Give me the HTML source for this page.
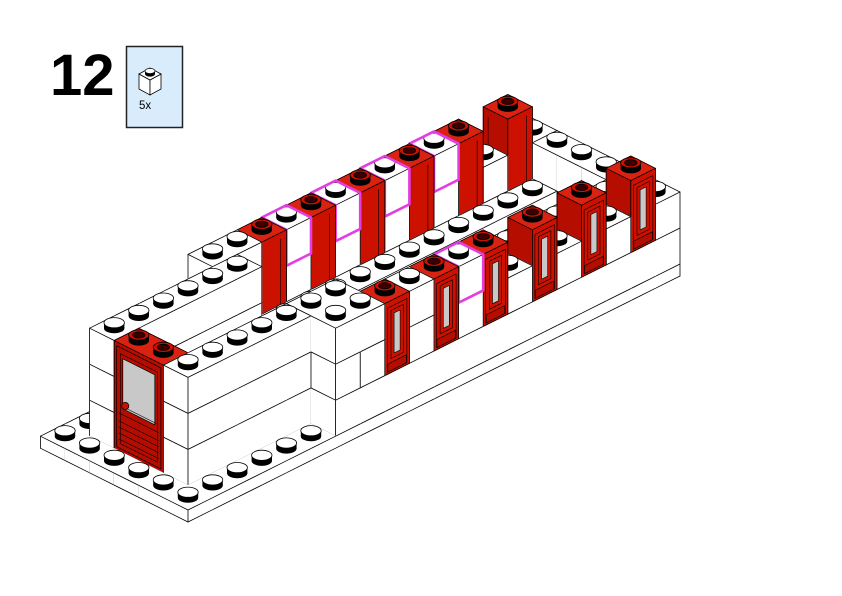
<!DOCTYPE html>
<html><head><meta charset="utf-8"><style>
html,body{margin:0;padding:0;background:#fff;width:842px;height:596px;overflow:hidden}
svg{display:block}
</style></head><body>
<svg id="s" width="842" height="596" viewBox="0 0 842 596" xmlns="http://www.w3.org/2000/svg">
<rect width="842" height="596" fill="#fff"/>
<text x="50" y="95" font-family="Liberation Sans, sans-serif" font-weight="bold" font-size="58" fill="#000">12</text>
<rect x="126.5" y="46.5" width="56" height="81" fill="#d8ecfc" stroke="#222" stroke-width="1.5"/>
<polygon points="139,89 139,74 150,80 150,95" fill="#fff" stroke="#000" stroke-width="0.8"/>
<polygon points="150,95 150,80 161,74 161,89" fill="#fff" stroke="#000" stroke-width="0.8"/>
<polygon points="139,74 150,68 161,74 150,80" fill="#fff" stroke="#000" stroke-width="0.8"/>
<ellipse cx="150" cy="74" rx="5" ry="2.6" fill="#000"/>
<rect x="145" y="71" width="10" height="3" fill="#000"/>
<ellipse cx="150" cy="71" rx="5" ry="2.6" fill="#fff" stroke="#000" stroke-width="0.7"/>
<text x="139" y="109" font-family="Liberation Sans, sans-serif" font-size="11.5" fill="#000">5x</text>
<g id="scene"></g>
</svg>
<script>
(function(){
function P(a,b,z){return [188+24.6*(a-b),510-12.3*(a+b)-z];}
function pts(arr){return arr.map(p=>p[0].toFixed(1)+','+p[1].toFixed(1)).join(' ');}
function poly(arr,fill,stroke,sw){return '<polygon points="'+pts(arr)+'" fill="'+fill+'" stroke="'+(stroke||'none')+'" stroke-width="'+(sw||0.6)+'" stroke-linejoin="round"/>';}
function line(p,q,col,sw){return '<line x1="'+p[0].toFixed(1)+'" y1="'+p[1].toFixed(1)+'" x2="'+q[0].toFixed(1)+'" y2="'+q[1].toFixed(1)+'" stroke="'+(col||'#000')+'" stroke-width="'+(sw||0.8)+'" stroke-linecap="round"/>';}
var boxes=[];
function B(a0,a1,b0,b1,z0,z1,c,t){boxes.push({a0:a0,a1:a1,b0:b0,b1:b1,z0:z0,z1:z1,c:c||'w',t:t||''});}
B(0,20,0,6,-12,0,'w');
[0,36,72].forEach(function(z){B(1,6,1,2,z,z+36);B(1,7,4,5,z,z+36);B(6,8,5,6,z,z+36);});
B(1,2,2,4,0,108,'r','door');
B(6,20,0,2,0,36);
B(6,20,1,2,36,72);
[6,7,9,11,13,15,17,19].forEach(function(a){B(a,a+1,0,1,36,72);});
[8,10,12,14,16,18].forEach(function(a){B(a,a+1,0,1,36,108,'r','win');});
B(6,8,0,2,72,108);
B(9,10,0,1,72,108);
B(11,12,0,1,72,108,'w','mag');
B(19,20,2,5,0,36);B(19,20,2,5,36,72);
B(7,19,4,5,0,36);
[8,10,12,14,16].forEach(function(a){B(a,a+1,5,6,0,108,'r','pil');});
[9,11,13,15].forEach(function(a){B(a,a+1,5,6,0,36);B(a,a+1,5,6,36,72);B(a,a+1,5,6,72,108,'w','mag');});
B(17,18,5,6,0,36);B(17,18,5,6,36,72);
B(18,19,5,6,0,108,'r','pil');
B(19,20,5,6,0,36);B(19,20,5,6,36,72);

var occ={};
var items=[];
boxes.forEach(function(bx){
  for(var a=bx.a0;a<bx.a1;a++)for(var b=bx.b0;b<bx.b1;b++){
    var k=a+','+b;(occ[k]=occ[k]||[]).push([bx.z0,bx.z1]);
    items.push({bx:bx,a:a,b:b,key:-(a+b)*100000+bx.z0});
  }
});
items.sort(function(x,y){return x.key-y.key;});
var RED='#cc1100',REDL='#b50e00',REDT='#d92212';
function stud(a,b,z,red){
  var c=P(a,b,z),rx=10.2,ry=5.1,h=5.5,s='';
  s+='<ellipse cx="'+c[0].toFixed(1)+'" cy="'+c[1].toFixed(1)+'" rx="'+rx+'" ry="'+ry+'" fill="#000"/>';
  s+='<rect x="'+(c[0]-rx).toFixed(1)+'" y="'+(c[1]-h).toFixed(1)+'" width="'+(2*rx)+'" height="'+h+'" fill="#000"/>';
  if(red){
    s+='<ellipse cx="'+c[0].toFixed(1)+'" cy="'+(c[1]-h).toFixed(1)+'" rx="'+rx+'" ry="'+ry+'" fill="'+RED+'" stroke="#000" stroke-width="0.8"/>';
    s+='<ellipse cx="'+c[0].toFixed(1)+'" cy="'+(c[1]-h).toFixed(1)+'" rx="6.2" ry="3.1" fill="#3a0000" stroke="#000" stroke-width="0.8"/>';
  } else {
    s+='<ellipse cx="'+c[0].toFixed(1)+'" cy="'+(c[1]-h).toFixed(1)+'" rx="'+rx+'" ry="'+ry+'" fill="#fff" stroke="#000" stroke-width="0.8"/>';
  }
  return s;
}
function doorDecor(){
  var D=function(b,z){return P(1,b,z);},s='';
  s+=poly([D(2.1,3),D(3.9,3),D(3.9,104),D(2.1,104)],'none','#000',0.7);
  s+=poly([D(2.25,8),D(3.75,8),D(3.75,98),D(2.25,98)],'none','#000',0.6);
  s+=poly([D(2.35,44),D(3.65,44),D(3.65,94),D(2.35,94)],'#c8c8c8','#000',0.7);
  [12,18,24,30,38].forEach(function(z){s+=line(D(2.2,z),D(3.8,z),'#000',0.6);});
  var h=D(3.55,48);
  s+='<circle cx="'+h[0].toFixed(1)+'" cy="'+h[1].toFixed(1)+'" r="3.6" fill="'+RED+'" stroke="#000" stroke-width="0.7"/>';
  s+=line(D(3.5,46),D(2.3,46),'#000',0.6);
  return s;
}
function winDecor(k){
  var W=function(a,z){return P(a,0,z);},s='';
  s+=poly([W(k+0.1,38),W(k+0.9,38),W(k+0.9,102),W(k+0.1,102)],'none','#000',0.6);
  s+=poly([W(k+0.12,38),W(k+0.88,38),W(k+0.88,46),W(k+0.12,46)],REDL,'#000',0.6);
  s+=poly([W(k+0.25,50),W(k+0.75,50),W(k+0.75,98),W(k+0.25,98)],'none','#000',0.6);
  s+=poly([W(k+0.38,54),W(k+0.62,54),W(k+0.62,94),W(k+0.38,94)],'#c8c8c8','#000',0.6);
  return s;
}
function pilDecor(k){
  var s='';
  s+=line(P(k+0.75,5,6),P(k+0.75,5,102),'#000',0.6);
  s+=line(P(k,5.8,6),P(k,5.8,100),'#000',0.5);
  return s;
}
var out='';
items.forEach(function(it){
  var bx=it.bx,a=it.a,b=it.b,a0=a,a1=a+1,b0=b,b1=b+1,z0=bx.z0,z1=bx.z1;
  var red=bx.c==='r';
  var fF=red?RED:'#fff',fL=red?REDL:'#fff',fT=red?REDT:'#fff';
  var s='';
  if(a===bx.a0){
    var lf=[P(a0,b0,z0),P(a0,b1,z0),P(a0,b1,z1),P(a0,b0,z1)];
    s+=poly(lf,fL,fL,0.8);
    s+=line(P(a0,b0,z0),P(a0,b1,z0));
    if(b===bx.b1-1)s+=line(P(a0,b1,z0),P(a0,b1,z1));
    s+=line(P(a0,b0,z0),P(a0,b0,z1));
  }
  if(b===bx.b0){
    var ff=[P(a0,b0,z0),P(a1,b0,z0),P(a1,b0,z1),P(a0,b0,z1)];
    s+=poly(ff,fF,fF,0.8);
    s+=line(P(a0,b0,z0),P(a1,b0,z0));
    if(a===bx.a1-1)s+=line(P(a1,b0,z0),P(a1,b0,z1));
    if(a===bx.a0)s+=line(P(a0,b0,z0),P(a0,b0,z1));
  }
  var tp=[P(a0,b0,z1),P(a1,b0,z1),P(a1,b1,z1),P(a0,b1,z1)];
  s+=poly(tp,fT,fT,0.8);
  if(b===bx.b0)s+=line(P(a0,b0,z1),P(a1,b0,z1));
  if(a===bx.a0)s+=line(P(a0,b0,z1),P(a0,b1,z1));
  if(b===bx.b1-1)s+=line(P(a0,b1,z1),P(a1,b1,z1));
  if(a===bx.a1-1)s+=line(P(a1,b0,z1),P(a1,b1,z1));
  var list=occ[a+','+b]||[],covered=false;
  for(var i=0;i<list.length;i++){if(Math.abs(list[i][0]-z1)<1)covered=true;}
  if(!covered)s+=stud(a+0.5,b+0.5,z1,red);
  if(bx.t==='door'&&a===bx.a0&&b===bx.b0)s+=doorDecor();
  if(bx.t==='win')s+=winDecor(a);
  if(bx.t==='pil'&&b===bx.b0)s+=pilDecor(a);
  if(bx.t==='mag'){
    var m=[P(a0,b0,z0),P(a1,b0,z0),P(a1,b0,z1),P(a1,b1,z1),P(a0,b1,z1),P(a0,b0,z1)];
    s+='<polygon points="'+pts(m)+'" fill="none" stroke="#e43de4" stroke-width="2.6" stroke-linejoin="round"/>';
  }
  out+=s;
});
document.getElementById('scene').innerHTML=out;
})();
</script>
</body></html>
